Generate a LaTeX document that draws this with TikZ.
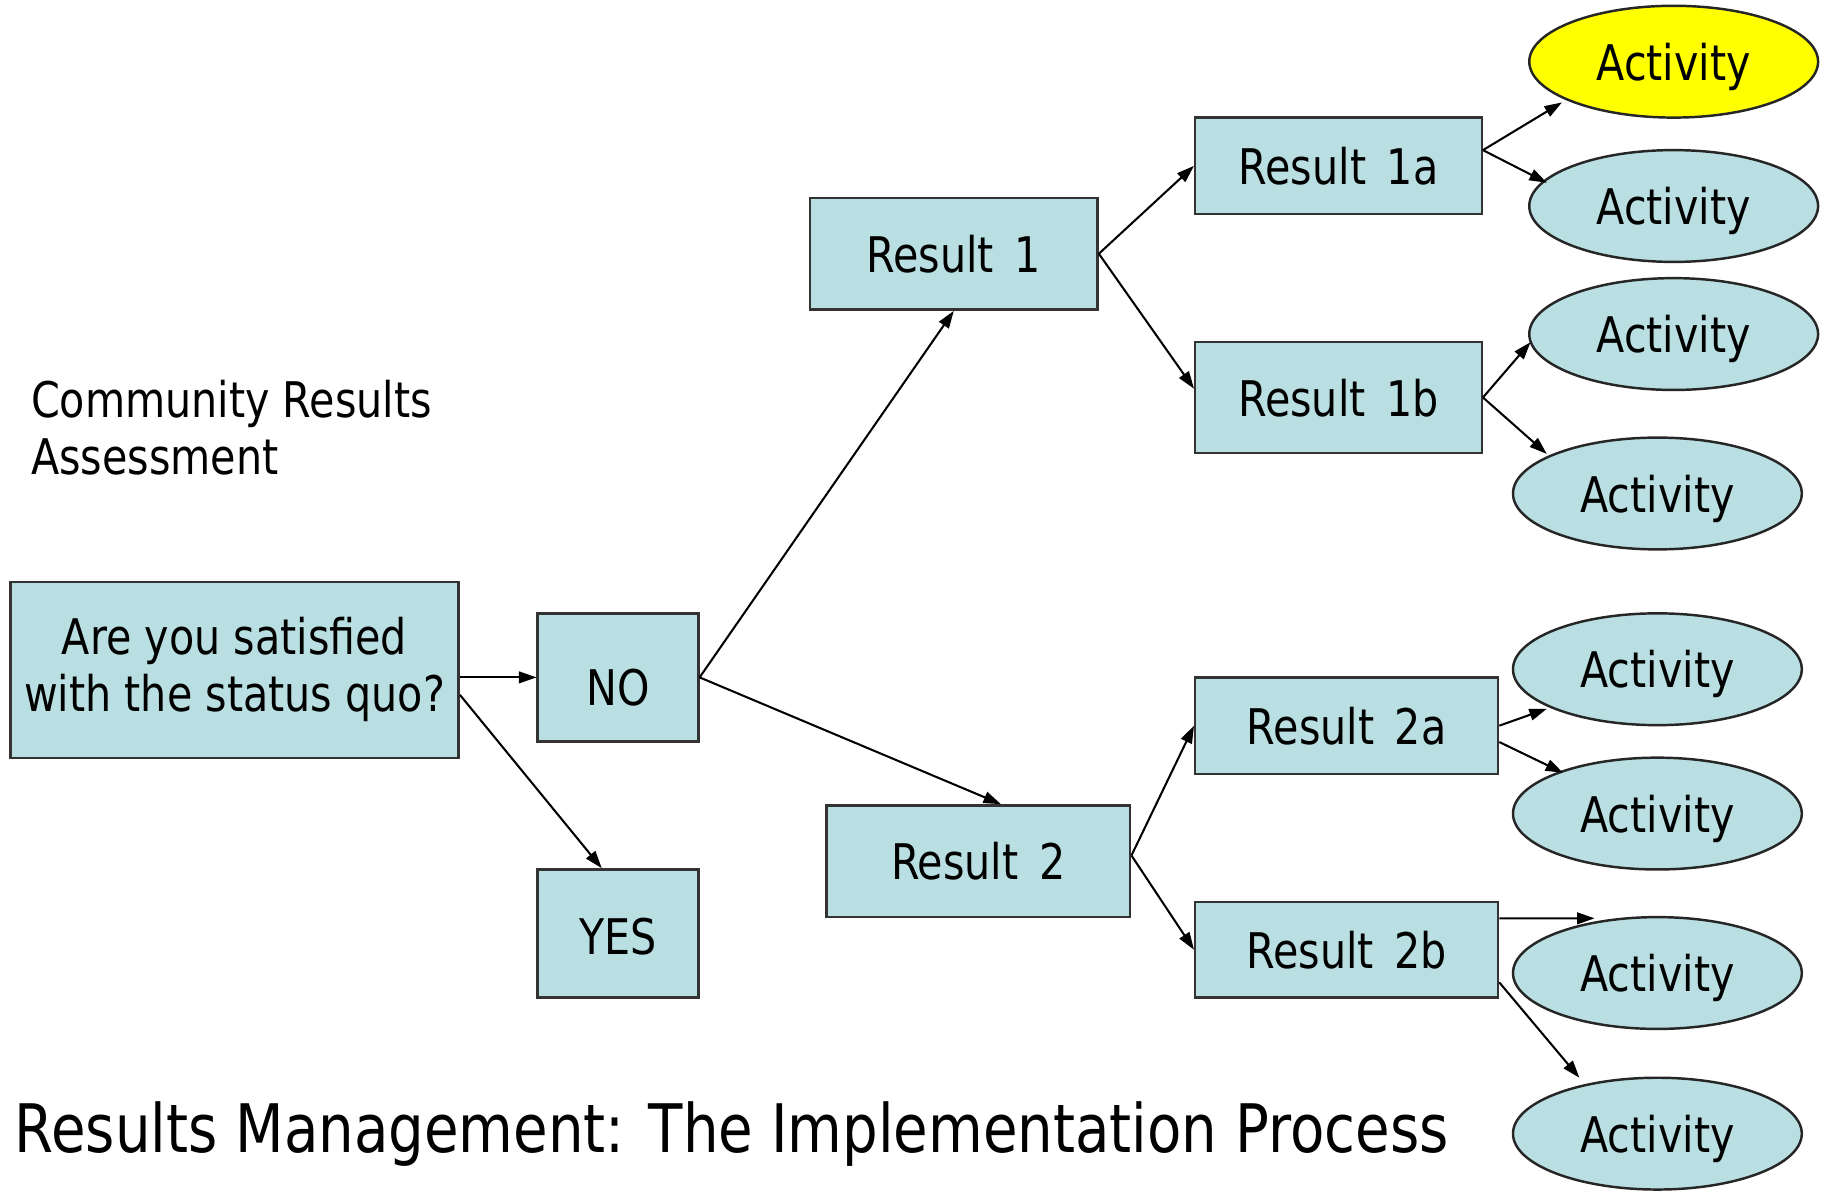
\documentclass[tikz,border=0pt]{standalone}
\usepackage{fontspec}
\setmainfont{DejaVu Sans}[FakeStretch=0.84]
\usetikzlibrary{shapes.geometric,arrows.meta,calc}
\definecolor{boxfill}{RGB}{185,223,226}
\definecolor{actyellow}{RGB}{255,255,0}
\newcommand{\rsp}{\hspace{0.42em}}
\begin{document}
\begin{tikzpicture}[x=0.01cm,y=-0.01cm,
  every node/.style={font=\fontsize{12}{14}\selectfont, inner sep=0pt},
  box/.style={draw=black!80, line width=0.6pt, fill=boxfill, text depth=0pt},
  act/.style={ellipse, draw=black!85, line width=0.6pt, fill=boxfill, text depth=0pt,
              minimum width=2.48cm, minimum height=0.96cm},
  arr/.style={-{Triangle[length=0.15cm,width=0.1cm]}, line width=0.5pt}]
\useasboundingbox (0,0) rectangle (1568,1024);
\fill[white] (0,0) rectangle (1568,1024);

% captions
\node[anchor=north west, align=left] (cra) at (26,326) {Community Results\\Assessment};
\node[anchor=base west, font=\fontsize{16.35}{20}\selectfont] (title) at (12,990)
  {Results Management: The Implementation Process};

% decision
\node[box, text depth=0.1cm, minimum width=3.85cm, minimum height=1.51cm, align=center] (q) at (201.5,575.5)
  {Are you satisfied\\with the status quo?};
\node[box, minimum width=1.38cm, minimum height=1.10cm, text height=0.49cm] (no) at (531,582) {NO};
\node[box, minimum width=1.38cm, minimum height=1.10cm, text height=0.36cm] (yes) at (531,802) {YES};

% results
\node[box, minimum width=2.47cm, minimum height=0.96cm] (r1) at (819.5,218) {Result\rsp 1};
\node[box, minimum width=2.61cm, minimum height=0.96cm] (r2) at (840.5,740) {Result\rsp 2};
\node[box, minimum width=2.46cm, minimum height=0.83cm] (r1a) at (1150,142.5) {Result\rsp 1a};
\node[box, minimum width=2.46cm, minimum height=0.95cm] (r1b) at (1150,341.5) {Result\rsp 1b};
\node[box, minimum width=2.60cm, minimum height=0.83cm] (r2a) at (1157,623.5) {Result\rsp 2a};
\node[box, minimum width=2.60cm, minimum height=0.82cm] (r2b) at (1157,816) {Result\rsp 2b};

% activities
\node[act, fill=actyellow] (a1) at (1438,53) {Activity};
\node[act] (a2) at (1438,177) {Activity};
\node[act] (a3) at (1438,287) {Activity};
\node[act] (a4) at (1424,424) {Activity};
\node[act] (a5) at (1424,575) {Activity};
\node[act] (a6) at (1424,699) {Activity};
\node[act] (a7) at (1424,836) {Activity};
\node[act] (a8) at (1424,974) {Activity};

% connectors
\draw[arr] (q.east |- no.west) -- (no.west);
\draw[arr] ([yshift=-0.215cm]q.east) -- ([xshift=-0.14cm]yes.north);
\draw[arr] (no.east) -- (r1.south);
\draw[arr] (no.east) -- ([xshift=0.195cm]r2.north);
\draw[arr] (r1.east) -- (r1a.west);
\draw[arr] (r1.east) -- ([yshift=0.075cm]r1b.west);
\draw[arr] ([yshift=0.135cm]r1a.east) -- ($(a1.center)+(-96,35)$);
\draw[arr] ([yshift=0.135cm]r1a.east) -- ($(a2.center)+(-109,-20)$);
\draw[arr] (r1b.east) -- ($(a3.center)+(-123,7)$);
\draw[arr] (r1b.east) -- ($(a4.center)+(-95,-34)$);
\draw[arr] ([yshift=0.05cm]r2.east) -- (r2a.west);
\draw[arr] ([yshift=0.05cm]r2.east) -- (r2b.west);
\draw[arr] (r2a.east) -- ($(a5.center)+(-95,34)$);
\draw[arr] ([yshift=-0.14cm]r2a.east) -- ($(a6.center)+(-81,-35)$);
\draw[arr] ([yshift=0.27cm]r2b.east) -- ($(a7.center)+(-54,-47)$);
\draw[arr] ([yshift=-0.28cm]r2b.east) -- ($(a8.center)+(-67,-48)$);
\end{tikzpicture}
\end{document}
